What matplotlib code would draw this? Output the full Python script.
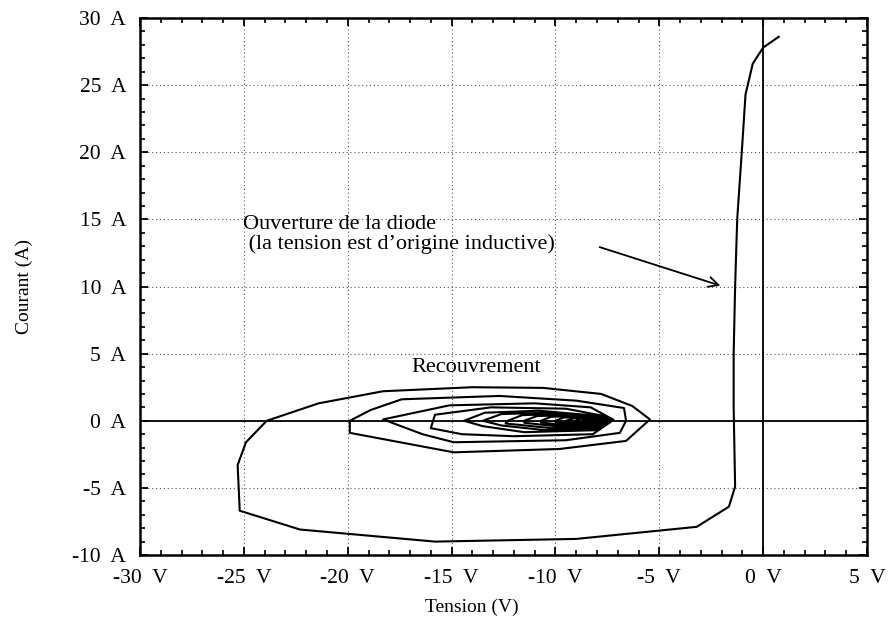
import matplotlib
matplotlib.use("Agg")
import matplotlib.pyplot as plt
from matplotlib.ticker import MultipleLocator

plt.rcParams['font.family'] = ['Liberation Serif', 'DejaVu Serif']

# Trajectoire I(V) : ouverture puis oscillations amorties
tension = [
    0.75, 0.0, -0.5, -0.85, -1.0, -1.25, -1.35, -1.42, -1.42, -1.35, -1.65, -3.2,
    -9.0, -15.8, -22.3, -25.2, -25.3, -24.9, -23.9,
    -21.4, -18.3, -14.0, -10.6, -7.8, -6.3, -5.45, -6.6, -9.8, -14.9, -19.9,
    -19.9, -18.9, -17.4, -12.7, -9.0, -6.7, -6.6, -6.9, -9.5, -14.9, -16.4,
    -18.3, -15.1, -11.0, -8.3, -7.2, -8.2, -12.0, -14.5,
    -16.0, -15.8, -13.1, -9.5, -7.8, -7.3, -8.0, -11.5, -13.5,
    -14.4, -13.4, -10.8, -8.2, -7.3, -8.0, -10.5, -12.6,
    -13.5, -12.6, -10.4, -8.2, -7.35, -7.9, -10.2, -12.4,
    -12.3, -11.6, -9.9, -8.1, -7.4, -7.9, -9.7, -11.5,
    -11.5, -10.9, -9.5, -8.0, -7.4, -7.85, -9.3, -10.7,
    -10.7, -10.2, -9.1, -7.9, -7.45, -7.8, -8.9, -10.0,
    -10.0, -9.6, -8.8, -7.85, -7.45, -7.75, -8.6, -9.5,
    -9.5, -9.1, -8.5, -7.8, -7.5, -7.7, -8.4, -9.05,
    -9.05, -8.8, -8.3, -7.75, -7.5, -7.7, -8.2, -8.7,
    -8.7, -8.5, -8.1, -7.7, -7.5, -7.65, -8.05, -8.4,
    -8.4, -8.2, -7.9, -7.6, -7.5,
]
courant = [
    28.6, 27.8, 26.6, 24.3, 20.7, 15.0, 10.0, 5.0, 1.0, -4.9, -6.4, -7.9,
    -8.8, -9.0, -8.1, -6.7, -3.3, -1.6, 0.0,
    1.3, 2.2, 2.5, 2.45, 2.0, 1.1, 0.1, -1.5, -2.1, -2.35, -0.9,
    0.0, 0.8, 1.6, 1.85, 1.5, 0.95, 0.0, -0.9, -1.45, -1.6, -1.0,
    0.1, 1.15, 1.3, 1.0, 0.07, -1.0, -1.15, -1.0,
    -0.55, 0.45, 1.0, 0.9, 0.4, 0.02, -0.7, -0.85, -0.4,
    0.0, 0.6, 0.75, 0.4, 0.05, -0.55, -0.7, -0.35,
    0.0, 0.5, 0.6, 0.3, 0.02, -0.45, -0.55, -0.2,
    0.0, 0.42, 0.5, 0.25, 0.02, -0.38, -0.45, -0.15,
    0.0, 0.35, 0.42, 0.2, 0.02, -0.3, -0.38, -0.12,
    0.0, 0.3, 0.35, 0.17, 0.02, -0.25, -0.3, -0.1,
    0.0, 0.24, 0.28, 0.13, 0.01, -0.2, -0.24, -0.08,
    0.0, 0.19, 0.22, 0.1, 0.01, -0.16, -0.19, -0.06,
    0.0, 0.15, 0.17, 0.08, 0.01, -0.12, -0.15, -0.05,
    0.0, 0.11, 0.13, 0.06, 0.0, -0.09, -0.11, -0.03,
    0.0, 0.08, 0.09, 0.04, 0.0,
]

xticks = [-30, -25, -20, -15, -10, -5, 0, 5]
xtick_labels = ['-30  V', '-25  V', '-20  V', '-15  V', '-10  V', '-5  V', '0  V', '5  V']
yticks = [-10, -5, 0, 5, 10, 15, 20, 25, 30]
ytick_labels = ['-10  A', '-5  A', '0  A', '5  A', '10  A', '15  A', '20  A', '25  A', '30  A']

fig = plt.figure(figsize=(8.93, 6.28), dpi=100)
ax = fig.add_axes([0.1568, 0.1162, 0.8141, 0.8551])

ax.grid(True, which='major', linestyle=(0, (1, 2.5)), color='#555555', linewidth=0.8)
ax.axhline(0, color='black', linewidth=1.3, zorder=2)
ax.axvline(0, color='black', linewidth=1.3, zorder=2)

ax.plot(tension, courant, color='black', linewidth=1.5, zorder=3)

ax.set_xlim(-30, 5)
ax.set_ylim(-10, 30)
ax.set_xticks(xticks)
ax.set_xticklabels(xtick_labels)
ax.set_yticks(yticks)
ax.set_yticklabels(ytick_labels)
ax.xaxis.set_minor_locator(MultipleLocator(1))
ax.yaxis.set_minor_locator(MultipleLocator(1))
ax.tick_params(which='both', direction='in', top=True, right=True, labelsize=15.5)
ax.tick_params(axis='x', pad=10)
ax.tick_params(axis='y', pad=10)
ax.tick_params(which='major', length=6, width=1.3)
ax.tick_params(which='minor', length=3.5, width=1.2)
for sp in ax.spines.values():
    sp.set_linewidth(1.8)

ax.set_xlabel('Tension (V)', fontsize=14)
ax.set_ylabel('Courant (A)', fontsize=14)
ax.xaxis.set_label_coords(0.457, -0.081)
ax.yaxis.set_label_coords(-0.147, 0.5)

ax.text(-13.8, 3.95, 'Recouvrement', fontsize=16, ha='center', va='center')
ax.text(-25.05, 13.88, 'Ouverture de la diode\n (la tension est d\u2019origine inductive)',
        fontsize=16, ha='left', va='center', linespacing=1.02)
ax.annotate('', xy=(-1.93, 10.0), xytext=(-8.0, 13.0),
            arrowprops=dict(arrowstyle='->', color='black', lw=1.3, mutation_scale=18))

fig.savefig('out.png', dpi=100)
